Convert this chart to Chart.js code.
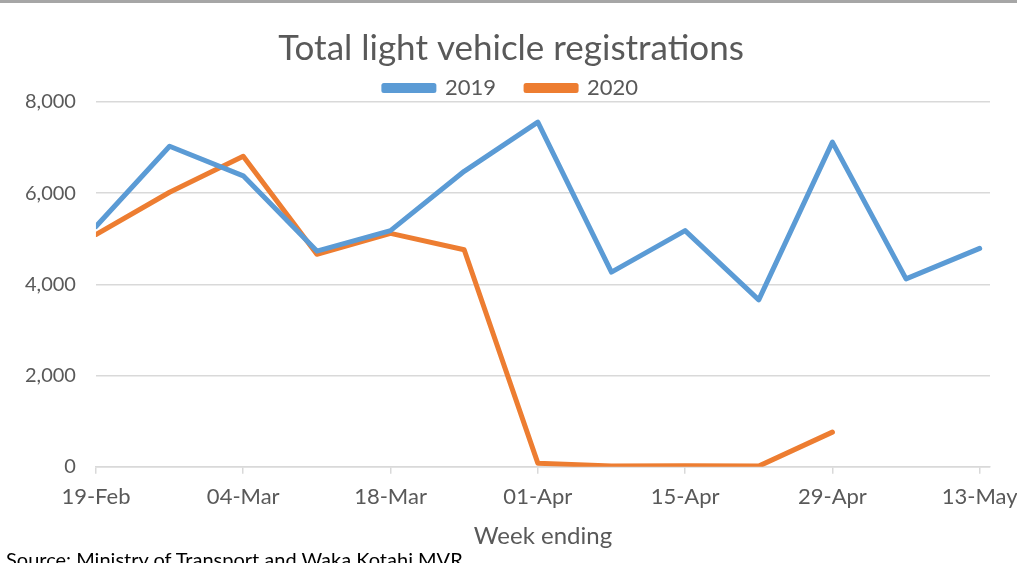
<!DOCTYPE html>
<html>
<head>
<meta charset="utf-8">
<script src="https://cdn.jsdelivr.net/npm/chart.js@4/dist/chart.umd.min.js"></script>
<style>
  html, body { margin: 0; padding: 0; background: #fff; overflow: hidden; }
  #wrap { position: relative; width: 1017px; height: 563px; overflow: hidden; }
  #topbar { position: absolute; left: 0; top: 0; width: 1017px; height: 3px; background: #a6a6a6; }
  #source { position: absolute; left: 6px; top: 547px; font-family: Lato, sans-serif; font-size: 20px; color: #000; white-space: nowrap; }
</style>
</head>
<body>
<div id="wrap">
  <canvas id="regChart" width="1017" height="563"></canvas>
  <div id="topbar"></div>
  <div id="source">Source: Ministry of Transport and Waka Kotahi MVR</div>
</div>
<script>
var weeks = ["19-Feb", "26-Feb", "04-Mar", "11-Mar", "18-Mar", "25-Mar", "01-Apr",
             "08-Apr", "15-Apr", "22-Apr", "29-Apr", "06-May", "13-May"];

var regs2019 = [5270, 7030, 6380, 4730, 5180, 6480, 7560, 4270, 5180, 3660, 7120, 4120, 4790];
var regs2020 = [5090, 6020, 6810, 4660, 5120, 4760, 80, 20, 25, 15, 760, null, null];

var yTicks = [0, 2000, 4000, 6000, 8000];
var xTicks = [0, 2, 4, 6, 8, 10, 12];   // every other week is labelled

// x is a linear index so the plot can run a little past the last week, like Excel does
function toPoints(values) {
  var pts = [];
  for (let i = 0; i < values.length; i++) {
    pts.push({ x: i, y: values[i] });
  }
  return pts;
}

var font = "Lato, 'Open Sans', sans-serif";
var grey = "#595959";

new Chart(document.getElementById("regChart"), {
  type: "line",
  data: {
    datasets: [
      {
        label: "2019",
        data: toPoints(regs2019),
        borderColor: "#5b9bd5",
        backgroundColor: "#5b9bd5",
        borderWidth: 5,
        pointRadius: 0,
        borderJoinStyle: "round",
        borderCapStyle: "round",
        tension: 0
      },
      {
        label: "2020",
        data: toPoints(regs2020),
        borderColor: "#ed7d31",
        backgroundColor: "#ed7d31",
        borderWidth: 5,
        pointRadius: 0,
        borderJoinStyle: "round",
        borderCapStyle: "round",
        spanGaps: false,
        tension: 0
      }
    ]
  },
  options: {
    responsive: false,
    animation: false,
    layout: { padding: { left: 5, right: 0, top: 20, bottom: 12 } },
    plugins: {
      title: {
        display: true,
        text: "Total light vehicle registrations",
        color: grey,
        font: { family: font, size: 35, weight: "normal" },
        padding: { top: 8, bottom: 5 }
      },
      legend: {
        display: true,
        maxHeight: 27,
        labels: {
          color: grey,
          font: { family: font, size: 22 },
          boxWidth: 50,
          boxHeight: 5,
          padding: 2,
          // widen the gap after the first entry with spaces
          generateLabels: function (chart) {
            var items = Chart.defaults.plugins.legend.labels.generateLabels(chart);
            items[0].text = items[0].text + "     ";
            return items;
          }
        }
      },
      tooltip: { enabled: false }
    },
    scales: {
      x: {
        type: "linear",
        min: 0,
        max: 12.14,
        afterBuildTicks: function (axis) {
          axis.ticks = xTicks.map(v => ({ value: v }));
        },
        // let the end labels hang over the edges; keep a fixed right margin
        afterFit: function (axis) {
          axis.paddingLeft = 0;
          axis.paddingRight = 27;
        },
        ticks: {
          color: grey,
          font: { family: font, size: 22 },
          maxRotation: 0,
          autoSkip: false,
          padding: 10,
          callback: function (v) { return weeks[v]; }
        },
        grid: {
          drawOnChartArea: false,
          drawTicks: true,
          tickLength: 7,
          color: "#d9d9d9",
          lineWidth: 1.5
        },
        border: { display: true, color: "#d9d9d9", width: 1.5 },
        title: {
          display: true,
          text: "Week ending",
          color: grey,
          font: { family: font, size: 24 },
          padding: { top: 2, bottom: 0 }
        }
      },
      y: {
        min: 0,
        max: 8000,
        afterBuildTicks: function (axis) {
          axis.ticks = yTicks.map(v => ({ value: v }));
        },
        afterFit: function (axis) {
          axis.paddingTop = 0;
          axis.paddingBottom = 0;
        },
        ticks: {
          color: grey,
          font: { family: font, size: 20 },
          padding: 20,
          callback: function (v) { return v.toLocaleString("en-US"); }
        },
        grid: {
          color: "#d9d9d9",
          lineWidth: 1.5,
          drawTicks: false
        },
        border: { display: false }
      }
    }
  }
});
</script>
</body>
</html>
